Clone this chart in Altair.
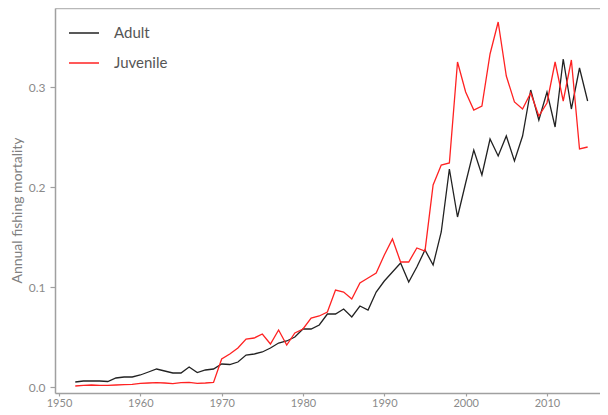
import altair as alt
import pandas as pd

years = list(range(1952, 2016))

adult = [0.005, 0.006, 0.006, 0.006, 0.0055, 0.009, 0.010, 0.010, 0.012, 0.015,
         0.018, 0.016, 0.014, 0.014, 0.020, 0.0145, 0.017, 0.018, 0.023, 0.0225,
         0.025, 0.032, 0.033, 0.035, 0.039, 0.044, 0.046, 0.050, 0.058, 0.058,
         0.062, 0.073, 0.073, 0.078, 0.070, 0.081, 0.077, 0.095, 0.106, 0.115,
         0.124, 0.105, 0.120, 0.137, 0.122, 0.155, 0.218, 0.170, 0.204, 0.237,
         0.212, 0.248, 0.231, 0.251, 0.226, 0.251, 0.297, 0.267, 0.295, 0.260,
         0.328, 0.278, 0.319, 0.286]

juvenile = [0.001, 0.0017, 0.002, 0.0017, 0.0017, 0.002, 0.0023, 0.0027, 0.0037, 0.004,
            0.0043, 0.004, 0.0033, 0.0043, 0.0047, 0.0037, 0.004, 0.0045, 0.028, 0.033,
            0.039, 0.048, 0.049, 0.053, 0.043, 0.057, 0.042, 0.054, 0.058, 0.069,
            0.071, 0.075, 0.097, 0.095, 0.088, 0.104, 0.109, 0.114, 0.132, 0.148,
            0.125, 0.125, 0.139, 0.136, 0.202, 0.222, 0.224, 0.325, 0.295, 0.277,
            0.281, 0.333, 0.365, 0.311, 0.285, 0.278, 0.294, 0.271, 0.284, 0.325,
            0.286, 0.327, 0.238, 0.240]

stages = ["Adult", "Juvenile"]
colors = ["#222222", "#ff2222"]
x_ticks = [1950, 1960, 1970, 1980, 1990, 2000, 2010]
y_ticks = [0.0, 0.1, 0.2, 0.3]

df = pd.DataFrame({
    "year": years * 2,
    "value": adult + juvenile,
    "stage": ["Adult"] * len(years) + ["Juvenile"] * len(years),
})

FONT = "Lato"
AXIS_GRAY = "#a0a0a0"
LABEL_GRAY = "#8a8a8a"

xscale = alt.Scale(domain=[1949.508, 2016.52], nice=False, zero=False)
yscale = alt.Scale(domain=[-0.006, 0.379], nice=False, zero=False)

lines = alt.Chart(df).mark_line(strokeWidth=1.3, clip=True).encode(
    x=alt.X("year:Q", scale=xscale,
            axis=alt.Axis(values=x_ticks, format="d", title=None, grid=False,
                          domainColor=AXIS_GRAY, domainWidth=1.5,
                          tickColor=AXIS_GRAY, tickWidth=1.2, tickSize=3,
                          labelColor=LABEL_GRAY, labelFont=FONT, labelFontSize=11,
                          labelPadding=1)),
    y=alt.Y("value:Q", scale=yscale,
            axis=alt.Axis(values=y_ticks, format=".1f", title="Annual fishing mortality",
                          grid=False, domainColor=AXIS_GRAY, domainWidth=1.5,
                          tickColor=AXIS_GRAY, tickWidth=1.2, tickSize=5,
                          labelColor=LABEL_GRAY, labelFont=FONT, labelFontSize=12,
                          labelPadding=5, titleFont=FONT, titleFontSize=14,
                          titleFontWeight="normal", titleColor="#808080",
                          titlePadding=4, titleY=202)),
    color=alt.Color("stage:N", scale=alt.Scale(domain=stages, range=colors),
                    legend=alt.Legend(orient="none", legendX=13, legendY=9, title=None,
                                      symbolType="stroke", symbolSize=900,
                                      symbolStrokeWidth=1.5, rowPadding=6, padding=0,
                                      labelOffset=14, labelFont=FONT, labelFontSize=15,
                                      labelColor="#555555")),
)

top = alt.Chart(df).mark_line(opacity=0).encode(
    x=alt.X("year:Q", scale=xscale,
            axis=alt.Axis(orient="top", labels=False, ticks=False, title=None, grid=False,
                          domainColor="#b8b8b8", domainWidth=1.5)),
    y=alt.Y("value:Q", scale=yscale, axis=None),
)

chart = alt.layer(lines, top).resolve_axis(x="independent", y="independent").properties(
    width=545, height=385,
    autosize=alt.AutoSizeParams(type="none"),
    padding={"left": 47, "top": 0, "right": 0, "bottom": 14},
).configure_view(stroke=None)

chart.save("out.html", embed_options={"renderer": "svg", "actions": False})
